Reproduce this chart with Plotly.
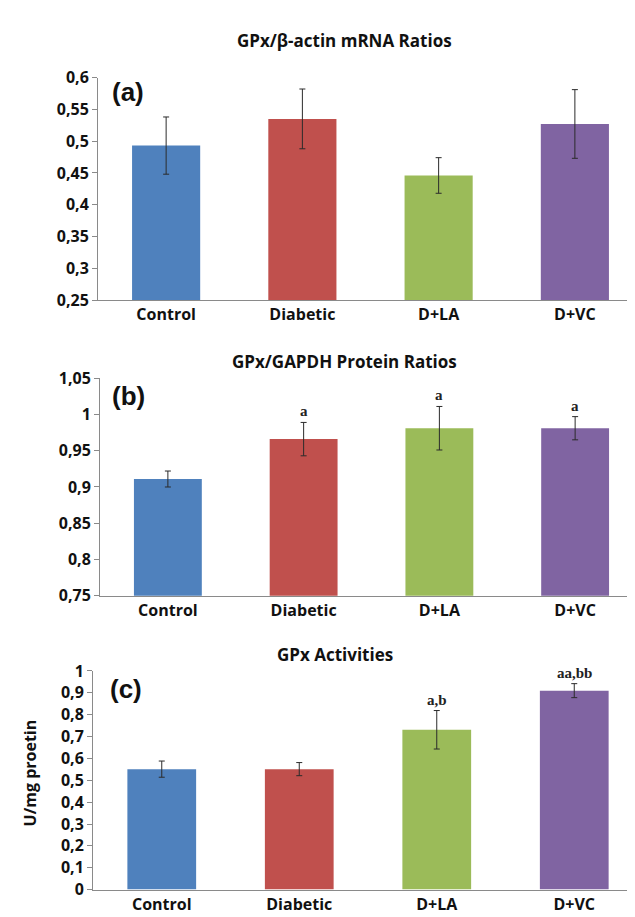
import plotly.graph_objects as go

W, H = 635, 917

categories = ["Control", "Diabetic", "D+LA", "D+VC"]
colors = ["#4F81BD", "#C0504D", "#9BBB59", "#8064A2"]

mrna_vals = [0.493, 0.535, 0.446, 0.527]
mrna_err = [0.045, 0.047, 0.028, 0.054]

protein_vals = [0.911, 0.966, 0.981, 0.981]
protein_err = [0.011, 0.023, 0.030, 0.016]
protein_sig = ["", "a", "a", "a"]

activity_vals = [0.551, 0.551, 0.731, 0.910]
activity_err = [0.037, 0.030, 0.088, 0.032]
activity_sig = ["", "", "a,b", "aa,bb"]

a_ticks = [0.25, 0.3, 0.35, 0.4, 0.45, 0.5, 0.55, 0.6]
a_ticktext = ["0,25", "0,3", "0,35", "0,4", "0,45", "0,5", "0,55", "0,6"]
b_ticks = [0.75, 0.8, 0.85, 0.9, 0.95, 1.0, 1.05]
b_ticktext = ["0,75", "0,8", "0,85", "0,9", "0,95", "1", "1,05"]
c_ticks = [0, 0.1, 0.2, 0.3, 0.4, 0.5, 0.6, 0.7, 0.8, 0.9, 1.0]
c_ticktext = ["0", "0,1", "0,2", "0,3", "0,4", "0,5", "0,6", "0,7", "0,8", "0,9", "1"]

titles = ["GPx/β-actin mRNA Ratios", "GPx/GAPDH Protein Ratios", "GPx Activities"]
panel_labels = ["(a)", "(b)", "(c)"]
y_title_c = "U/mg proetin"

FONT = "Open Sans"
AXIS_GRAY = "#8a8a8a"


def px(x):
    return x / W


def py(y):
    return 1 - y / H


fig = go.Figure()

panels = [
    dict(vals=mrna_vals, err=mrna_err, sig=None, ticks=a_ticks, ticktext=a_ticktext,
         rng=[0.25, 0.6], xdom=[px(90), 1.0], ydom=[py(288), py(60)]),
    dict(vals=protein_vals, err=protein_err, sig=protein_sig, ticks=b_ticks, ticktext=b_ticktext,
         rng=[0.75, 1.05], xdom=[px(92), 1.0], ydom=[py(591), py(368)]),
    dict(vals=activity_vals, err=activity_err, sig=activity_sig, ticks=c_ticks, ticktext=c_ticktext,
         rng=[0, 1.0], xdom=[px(85), 1.0], ydom=[py(892), py(668)]),
]

annotations = []
for i, p in enumerate(panels):
    n = "" if i == 0 else str(i + 1)
    xa, ya = "x" + n, "y" + n
    fig.add_trace(go.Bar(
        x=categories, y=p["vals"], marker=dict(color=colors, line=dict(width=0)),
        width=0.5, xaxis=xa, yaxis=ya, showlegend=False,
        error_y=dict(type="data", array=p["err"], visible=True,
                     color="#2b2b2b", thickness=1, width=3),
    ))
    fig.update_layout(**{
        "xaxis" + n: dict(
            domain=p["xdom"], anchor=ya, range=[-0.5, 3.5], showline=True,
            linecolor=AXIS_GRAY, linewidth=1, ticks="", showgrid=False,
            tickfont=dict(family=FONT, size=16, color="#111", weight="bold"),
            fixedrange=True,
        ),
        "yaxis" + n: dict(
            domain=p["ydom"], anchor=xa, range=p["rng"], tickvals=p["ticks"],
            ticktext=p["ticktext"], showline=True, linecolor=AXIS_GRAY, linewidth=1,
            ticks="outside", ticklen=5, tickcolor=AXIS_GRAY, showgrid=False,
            zeroline=False,
            tickfont=dict(family=FONT, size=16, color="#111", weight="bold"),
            fixedrange=True,
        ),
    })
    if p["sig"]:
        for c, v, e, s in zip(categories, p["vals"], p["err"], p["sig"]):
            if s:
                annotations.append(dict(
                    x=c, y=v + e, xref=xa, yref=ya, text="<b>" + s + "</b>",
                    showarrow=False, yanchor="bottom", yshift=1,
                    font=dict(family="Liberation Serif", size=15, color="#222"),
                ))

# titles
title_pos = [(336, 22), (336, 351), (327, 651)]
for t, (x, y) in zip(titles, title_pos):
    annotations.append(dict(
        x=px(x), y=py(y), xref="paper", yref="paper", text="<b>" + t + "</b>",
        showarrow=False, xanchor="center", yanchor="middle",
        font=dict(family=FONT, size=17, color="#111"),
    ))

# panel labels
label_pos = [(102, 75), (102, 386), (100, 686)]
for t, (x, y) in zip(panel_labels, label_pos):
    annotations.append(dict(
        x=px(x), y=py(y), xref="paper", yref="paper", text="<b>" + t + "</b>",
        showarrow=False, xanchor="left", yanchor="middle",
        font=dict(family="Liberation Sans Narrow, Liberation Sans", size=26, color="#111"),
    ))

# y-axis title for (c)
annotations.append(dict(
    x=px(22), y=py(773), xref="paper", yref="paper", text="<b>" + y_title_c + "</b>",
    showarrow=False, textangle=-90, xanchor="center", yanchor="middle",
    font=dict(family=FONT, size=16, color="#111"),
))

fig.update_layout(
    width=W, height=H, margin=dict(l=0, r=0, t=0, b=0),
    paper_bgcolor="white", plot_bgcolor="white",
    annotations=annotations, bargap=0.5,
)

fig.write_html("out.html")
